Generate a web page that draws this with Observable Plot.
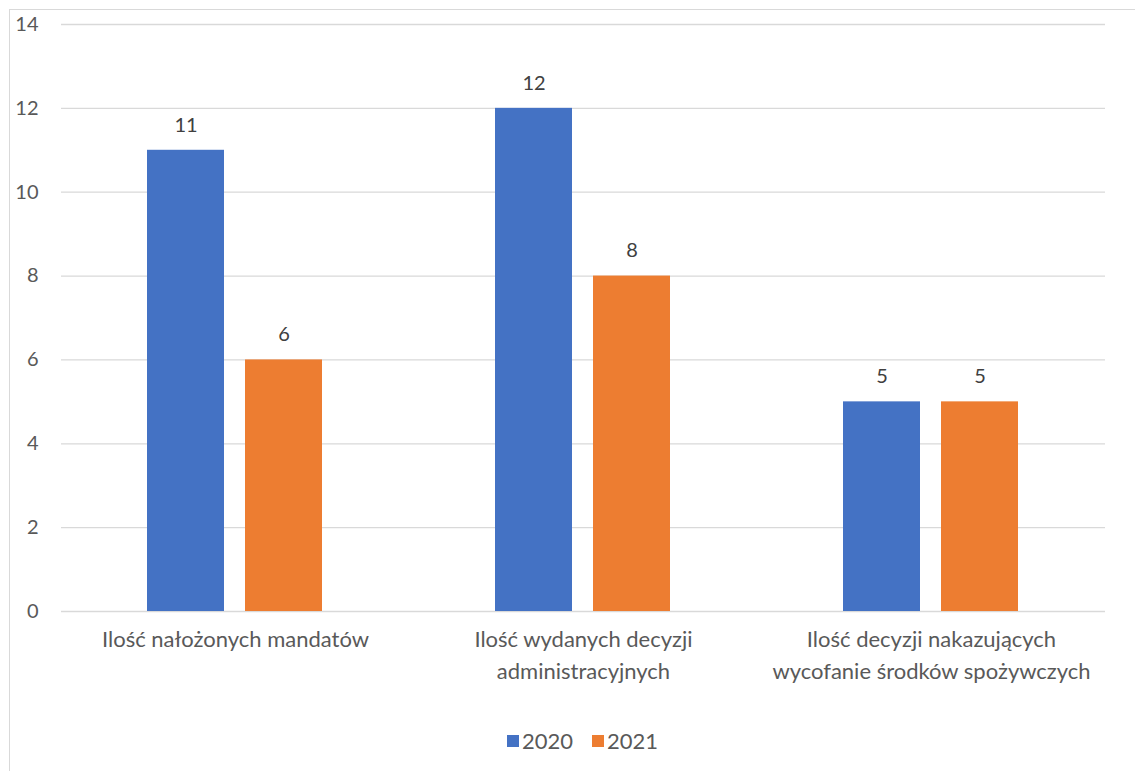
<!DOCTYPE html>
<html>
<head>
<meta charset="utf-8">
<script src="https://cdn.jsdelivr.net/npm/d3@7"></script>
<script src="https://cdn.jsdelivr.net/npm/@observablehq/plot@0.6"></script>
<style>
  html, body { margin: 0; padding: 0; background: #fff; }
  #wrap { position: relative; width: 1135px; height: 771px; overflow: hidden; font-family: Lato, "Open Sans", sans-serif; }
  #border { position: absolute; left: 9px; top: 9px; width: 1200px; height: 900px; border-left: 1.5px solid #d9d9d9; border-top: 1.5px solid #d9d9d9; }
  #chart { position: absolute; left: 0; top: 0; }
  #legend { position: absolute; left: 0; width: 1165px; top: 727px; display: flex; justify-content: center; gap: 19px; font-size: 22px; color: #595959; }
  .item { display: flex; align-items: center; gap: 3px; }
  .sw { width: 12px; height: 12px; display: inline-block; }
</style>
</head>
<body>
<div id="wrap">
  <div id="border"></div>
  <div id="chart"></div>
  <div id="legend"></div>
</div>
<script>
const categories = ["Ilość nałożonych mandatów", "Ilość wydanych decyzji administracyjnych", "Ilość decyzji nakazujących wycofanie środków spożywczych"];
const categoryLabels = ["Ilość nałożonych mandatów", "Ilość wydanych decyzji\nadministracyjnych", "Ilość decyzji nakazujących\nwycofanie środków spożywczych"];
const years = ["2020", "2021"];
const values2020 = [11, 12, 5];
const values2021 = [6, 8, 5];
const yTicks = [0, 2, 4, 6, 8, 10, 12, 14];
const colors = ["#4472C4", "#ED7D31"];

const data = [];
categories.forEach((c, i) => {
  data.push({category: c, year: years[0], value: values2020[i]});
  data.push({category: c, year: years[1], value: values2021[i]});
});

const H = 715;
const chart = Plot.plot({
  width: 1135,
  height: H,
  marginLeft: 60,
  marginRight: 30,
  marginTop: 24,
  marginBottom: H - 611,
  style: {fontFamily: "Lato, 'Open Sans', sans-serif", fontSize: "20px", color: "#595959", background: "transparent"},
  fx: {domain: categories, padding: 0, label: null},
  x: {domain: years, paddingInner: 0.212, paddingOuter: 0.864, axis: null},
  y: {domain: [0, 14], axis: null},
  color: {domain: years, range: colors},
  marks: [
    Plot.ruleY(yTicks, {stroke: "#d9d9d9", strokeWidth: 1.3}),
    Plot.barY(data, {fx: "category", x: "year", y: "value", fill: "year"}),
    Plot.text(data, {fx: "category", x: "year", y: "value", text: d => String(d.value), dy: -25, fill: "#404040", fontSize: 20, lineAnchor: "middle"}),
    Plot.axisY({ticks: yTicks, tickSize: 0, tickPadding: 23, fontSize: 20, fill: "#595959", facetAnchor: "left", label: null}),
    Plot.axisFx({anchor: "bottom", tickSize: 0, tickPadding: 13, fontSize: 22, fill: "#595959", lineHeight: 1.45, label: null,
      tickFormat: d => categoryLabels[categories.indexOf(d)]})
  ]
});
document.getElementById("chart").appendChild(chart);

const legend = document.getElementById("legend");
years.forEach((y, i) => {
  const it = document.createElement("div");
  it.className = "item";
  it.innerHTML = `<span class="sw" style="background:${colors[i]}"></span><span>${y}</span>`;
  legend.appendChild(it);
});
</script>
</body>
</html>
